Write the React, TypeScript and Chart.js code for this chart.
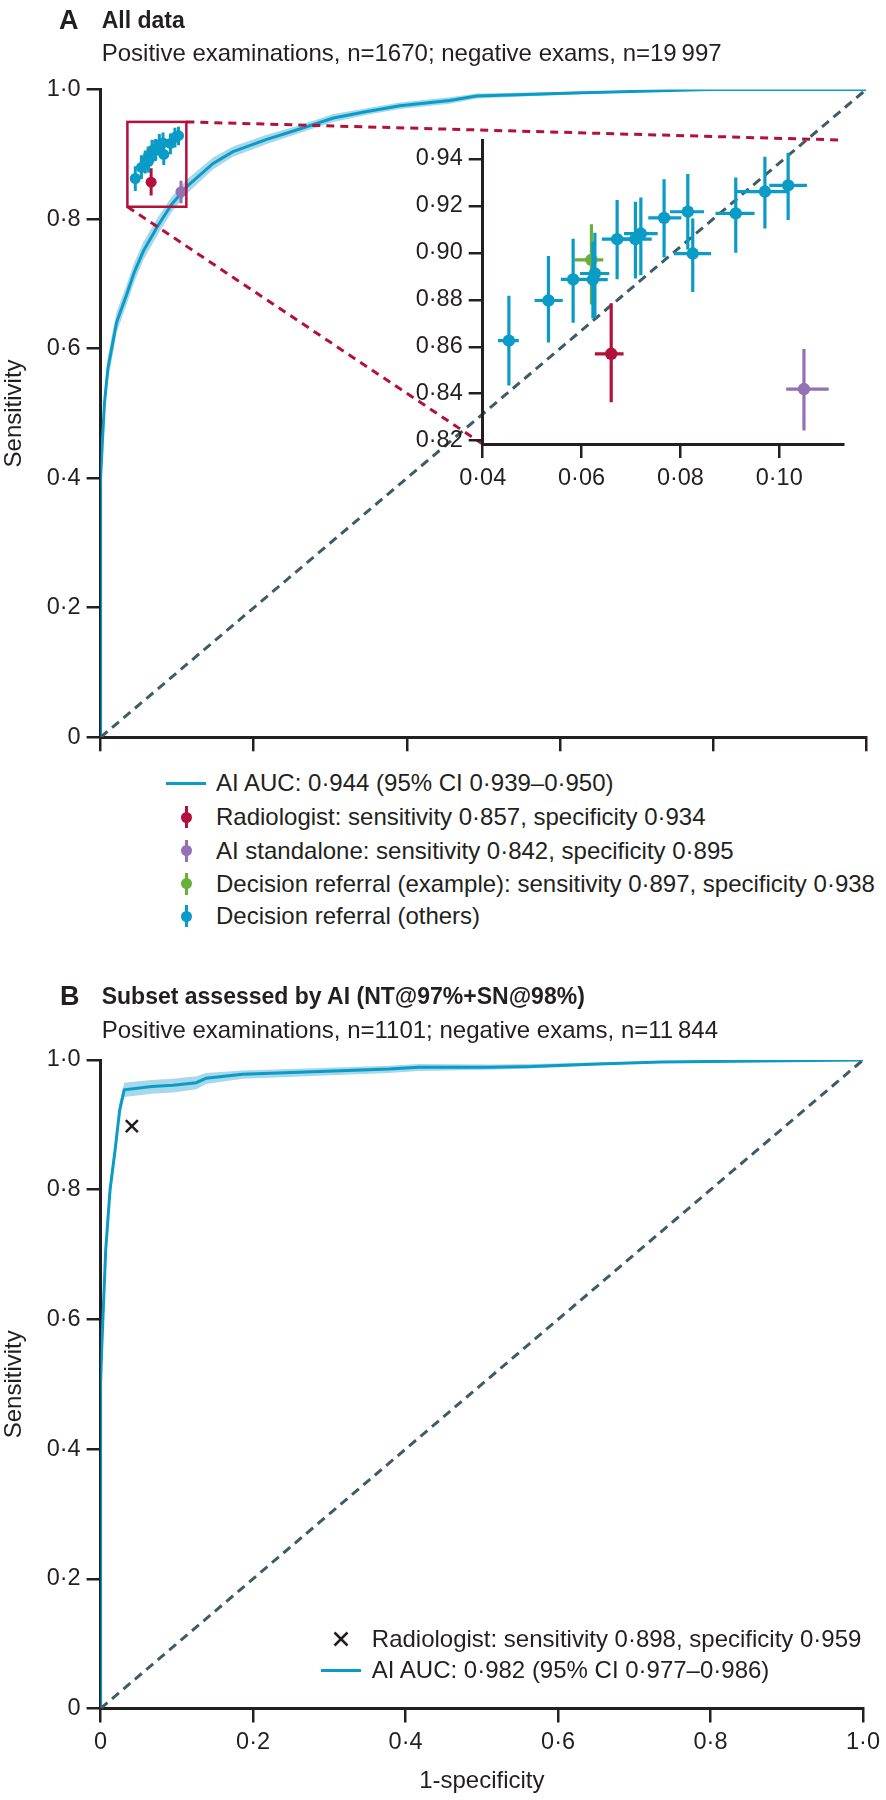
import React, { useEffect, useRef } from 'react';
import { Chart, registerables } from 'chart.js';

Chart.register(...registerables);

const FONT = "'Liberation Sans', Arial, Helvetica, sans-serif";
const INK = '#231f20';
const BLUE = '#0a9bc6';
const BAND = '#a6d7ea';
const DIAG = '#3d5c68';
const RED = '#b3103c';
const PURPLE = '#9470b5';
const GREEN = '#6aaf3a';

// ---------- tick values / labels ----------
const MAIN_TICKS = [0, 0.2, 0.4, 0.6, 0.8, 1];
const MAIN_TICK_LABELS = ['0', '0·2', '0·4', '0·6', '0·8', '1·0'];
const INSET_X_TICKS = [0.04, 0.06, 0.08, 0.1];
const INSET_X_LABELS = ['0·04', '0·06', '0·08', '0·10'];
const INSET_Y_TICKS = [0.82, 0.84, 0.86, 0.88, 0.9, 0.92, 0.94];
const INSET_Y_LABELS = ['0·82', '0·84', '0·86', '0·88', '0·90', '0·92', '0·94'];

// ---------- Panel A: AI ROC curve with 95% CI band ----------
const A_FPR = [0, 0, 0, 0.0025, 0.005, 0.0095, 0.0165, 0.021, 0.033, 0.044, 0.056, 0.075, 0.093, 0.1075, 0.1125, 0.147, 0.173, 0.217, 0.26, 0.304, 0.348, 0.391, 0.456, 0.491, 0.63, 0.796, 1];
const A_TPR = [0, 0.27, 0.4, 0.46, 0.515, 0.569, 0.613, 0.641, 0.68, 0.718, 0.751, 0.79, 0.823, 0.843, 0.85, 0.886, 0.904, 0.923, 0.939, 0.956, 0.966, 0.975, 0.983, 0.99, 0.995, 1, 1];
const A_TPR_LO = [0, 0.25, 0.38, 0.44, 0.495, 0.55, 0.595, 0.625, 0.665, 0.703, 0.737, 0.777, 0.811, 0.832, 0.839, 0.877, 0.896, 0.916, 0.933, 0.95, 0.961, 0.97, 0.978, 0.986, 0.993, 1, 1];
const A_TPR_HI = [0, 0.29, 0.42, 0.48, 0.535, 0.588, 0.631, 0.657, 0.695, 0.733, 0.765, 0.803, 0.835, 0.854, 0.861, 0.895, 0.912, 0.93, 0.945, 0.962, 0.971, 0.98, 0.988, 0.994, 0.997, 1, 1];

// ---------- Panel B: AI ROC curve with 95% CI band ----------
const B_FPR = [0, 0, 0.0014, 0.0067, 0.0124, 0.019, 0.025, 0.031, 0.067, 0.095, 0.1255, 0.1386, 0.186, 0.269, 0.378, 0.417, 0.51, 0.565, 0.652, 0.735, 1];
const B_TPR = [0, 0.5, 0.553, 0.707, 0.8, 0.861, 0.923, 0.954, 0.959, 0.961, 0.965, 0.972, 0.978, 0.9815, 0.986, 0.989, 0.989, 0.99, 0.994, 0.997, 1];
const B_TPR_LO = [0, 0.48, 0.53, 0.69, 0.785, 0.848, 0.91, 0.943, 0.948, 0.95, 0.955, 0.963, 0.971, 0.975, 0.98, 0.983, 0.985, 0.987, 0.992, 0.996, 1];
const B_TPR_HI = [0, 0.52, 0.575, 0.725, 0.815, 0.874, 0.935, 0.965, 0.969, 0.971, 0.975, 0.98, 0.984, 0.987, 0.991, 0.994, 0.993, 0.994, 0.996, 0.998, 1];

// ---------- Decision referral (others) operating points ----------
const REF_FPR = [0.0453, 0.0533, 0.0583, 0.0627, 0.0623, 0.0672, 0.0709, 0.072, 0.0767, 0.0815, 0.0825, 0.0912, 0.0971, 0.1018];
const REF_TPR = [0.8626, 0.8797, 0.8887, 0.8912, 0.8886, 0.9058, 0.9058, 0.9082, 0.9149, 0.9175, 0.8997, 0.9168, 0.9261, 0.9287];
const REF_FPR_LO = [0.0431, 0.0505, 0.0558, 0.0597, 0.0609, 0.0641, 0.0679, 0.0686, 0.0735, 0.0779, 0.0787, 0.0871, 0.091, 0.098];
const REF_FPR_HI = [0.0473, 0.0562, 0.0614, 0.0656, 0.0653, 0.0705, 0.0742, 0.0754, 0.0802, 0.0848, 0.0862, 0.095, 0.1016, 0.1056];
const REF_TPR_LO = [0.8435, 0.8618, 0.8702, 0.8723, 0.872, 0.8888, 0.8891, 0.8905, 0.898, 0.9014, 0.8833, 0.9, 0.9104, 0.914];
const REF_TPR_HI = [0.8817, 0.8986, 0.906, 0.9085, 0.9047, 0.9225, 0.9217, 0.9236, 0.9313, 0.9336, 0.9146, 0.9321, 0.9409, 0.9426];

// ---------- single operating points: [fpr, tpr], CI ranges ----------
const RAD_A = [0.066, 0.857];
const RAD_A_FPR_CI = [0.0627, 0.0685];
const RAD_A_TPR_CI = [0.8364, 0.8785];
const AI_STANDALONE = [0.105, 0.842];
const AI_STANDALONE_FPR_CI = [0.1014, 0.11];
const AI_STANDALONE_TPR_CI = [0.8243, 0.8591];
const REF_EXAMPLE = [0.062, 0.897];
const REF_EXAMPLE_FPR_CI = [0.0586, 0.0644];
const REF_EXAMPLE_TPR_CI = [0.878, 0.9122];
const RAD_B = [0.041, 0.898];

// zoom window shown in inset
const ZOOM_FPR = [0.035, 0.112];
const ZOOM_TPR = [0.819, 0.95];
const INSET_FPR_RANGE = [0.04, 0.1129];
const INSET_TPR_RANGE = [0.8186, 0.948];

const DIAGONAL = [0, 1];

// ---------- helpers ----------
const pts = (xs: number[], ys: number[]) => xs.map((x, i) => ({ x, y: ys[i] }));

function errPoint(p: number[], fx: number[], fy: number[]) {
  return { x: p[0], y: p[1], xMin: fx[0], xMax: fx[1], yMin: fy[0], yMax: fy[1] };
}
const refOthers = () =>
  REF_FPR.map((x, i) => ({
    x,
    y: REF_TPR[i],
    xMin: REF_FPR_LO[i],
    xMax: REF_FPR_HI[i],
    yMin: REF_TPR_LO[i],
    yMax: REF_TPR_HI[i],
  }));

const errorBarPlugin = {
  id: 'errorBars',
  beforeDatasetDraw(chart: any, args: any) {
    const ds: any = chart.data.datasets[args.index];
    if (!ds.errorBars) return;
    const xs = chart.scales.x;
    const ys = chart.scales.y;
    const ctx = chart.ctx;
    ctx.save();
    ctx.strokeStyle = ds.backgroundColor;
    ctx.lineWidth = ds.errorBarWidth || 2.5;
    ctx.lineCap = 'butt';
    ds.data.forEach((p: any) => {
      const px = xs.getPixelForValue(p.x);
      const py = ys.getPixelForValue(p.y);
      ctx.beginPath();
      ctx.moveTo(xs.getPixelForValue(p.xMin), py);
      ctx.lineTo(xs.getPixelForValue(p.xMax), py);
      ctx.moveTo(px, ys.getPixelForValue(p.yMin));
      ctx.lineTo(px, ys.getPixelForValue(p.yMax));
      ctx.stroke();
    });
    ctx.restore();
  },
};

function axis(o: {
  min: number;
  max: number;
  ticks: number[];
  labels: string[];
  showLabels: boolean;
  horizontal: boolean;
  size: number;
  title?: string;
  titlePad?: any;
}) {
  return {
    type: 'linear',
    min: o.min,
    max: o.max,
    afterBuildTicks: (s: any) => {
      s.ticks = o.ticks.map((v) => ({ value: v }));
    },
    afterFit: (s: any) => {
      if (o.horizontal) s.height = o.size;
      else s.width = o.size;
    },
    ticks: {
      display: o.showLabels,
      callback: (_v: any, i: number) => o.labels[i],
      color: INK,
      font: { family: FONT, size: 23.5 },
      padding: 6,
      autoSkip: false,
      maxRotation: 0,
      minRotation: 0,
    },
    grid: { drawOnChartArea: false, drawTicks: true, tickLength: 14, color: INK, lineWidth: 2.5 },
    border: { display: true, color: INK, width: 3 },
    title: {
      display: !!o.title,
      text: o.title || '',
      color: INK,
      font: { family: FONT, size: 24 },
      padding: o.titlePad || 0,
    },
  };
}

function rocDatasets(fpr: number[], tpr: number[], lo: number[], hi: number[]) {
  return [
    {
      type: 'line',
      data: pts(fpr, lo),
      borderColor: 'transparent',
      borderWidth: 1,
      pointRadius: 0,
      fill: false,
      order: 20,
    },
    {
      type: 'line',
      data: pts(fpr, hi),
      borderColor: 'transparent',
      borderWidth: 1,
      pointRadius: 0,
      fill: '-1',
      backgroundColor: BAND,
      order: 19,
    },
    {
      type: 'line',
      data: pts(fpr, tpr),
      borderColor: BLUE,
      borderWidth: 3,
      pointRadius: 0,
      fill: false,
      order: 10,
    },
    {
      type: 'line',
      data: pts(DIAGONAL, DIAGONAL),
      borderColor: DIAG,
      borderWidth: 3,
      borderDash: [9, 6],
      pointRadius: 0,
      fill: false,
      order: 9,
    },
  ];
}

function pointDatasets(r: number, bw: number) {
  const mk = (data: any[], color: string, order: number) => ({
    type: 'scatter',
    data,
    backgroundColor: color,
    pointBackgroundColor: color,
    pointBorderWidth: 0,
    borderWidth: 0,
    pointRadius: r,
    pointHoverRadius: r,
    errorBars: true,
    errorBarWidth: bw,
    order,
  });
  return [
    mk([errPoint(REF_EXAMPLE, REF_EXAMPLE_FPR_CI, REF_EXAMPLE_TPR_CI)], GREEN, 4),
    mk([errPoint(RAD_A, RAD_A_FPR_CI, RAD_A_TPR_CI)], RED, 3),
    mk([errPoint(AI_STANDALONE, AI_STANDALONE_FPR_CI, AI_STANDALONE_TPR_CI)], PURPLE, 2),
    mk(refOthers(), BLUE, 1),
  ];
}

const baseOptions = {
  responsive: false,
  animation: false,
  devicePixelRatio: 1,
  events: [],
  plugins: { legend: { display: false }, tooltip: { enabled: false } },
};

// ---------- layout (page pixels) ----------
const A_CANVAS = { left: 0, top: 0, width: 886, height: 760 };
const INSET_CANVAS = { left: 380, top: 120, width: 506, height: 380 };
const B_CANVAS = { left: 0, top: 960, width: 886, height: 840 };

const LEGEND_A = [
  { kind: 'line', color: BLUE, text: 'AI AUC: 0·944 (95% CI 0·939–0·950)', y: 783 },
  { kind: 'err', color: RED, text: 'Radiologist: sensitivity 0·857, specificity 0·934', y: 817 },
  { kind: 'err', color: PURPLE, text: 'AI standalone: sensitivity 0·842, specificity 0·895', y: 850.5 },
  { kind: 'err', color: GREEN, text: 'Decision referral (example): sensitivity 0·897, specificity 0·938', y: 883.5 },
  { kind: 'err', color: BLUE, text: 'Decision referral (others)', y: 916 },
];

const TXT: React.CSSProperties = {
  position: 'absolute',
  fontFamily: FONT,
  color: INK,
  whiteSpace: 'nowrap',
  lineHeight: 1,
  transform: 'translateY(-50%)',
};

export default function App() {
  const aRef = useRef<HTMLCanvasElement>(null);
  const insetRef = useRef<HTMLCanvasElement>(null);
  const bRef = useRef<HTMLCanvasElement>(null);

  useEffect(() => {
    // inset (zoom of panel A)
    const inset = new Chart(insetRef.current as HTMLCanvasElement, {
      type: 'line',
      data: { datasets: pointDatasets(6.2, 3.2) as any },
      options: {
        ...baseOptions,
        layout: { padding: { left: 0, top: 20, right: 43, bottom: 0 } },
        scales: {
          x: axis({
            min: INSET_FPR_RANGE[0],
            max: INSET_FPR_RANGE[1],
            ticks: INSET_X_TICKS,
            labels: INSET_X_LABELS,
            showLabels: true,
            horizontal: true,
            size: 56,
          }),
          y: axis({
            min: INSET_TPR_RANGE[0],
            max: INSET_TPR_RANGE[1],
            ticks: INSET_Y_TICKS,
            labels: INSET_Y_LABELS,
            showLabels: true,
            horizontal: false,
            size: 102.7,
          }),
        },
      } as any,
      plugins: [errorBarPlugin],
    });

    const zoomPlugin = {
      id: 'zoomBox',
      afterDatasetsDraw(chart: any) {
        const ctx = chart.ctx;
        const xs = chart.scales.x;
        const ys = chart.scales.y;
        const x1 = xs.getPixelForValue(ZOOM_FPR[0]);
        const x2 = xs.getPixelForValue(ZOOM_FPR[1]);
        const yT = ys.getPixelForValue(ZOOM_TPR[1]);
        const yB = ys.getPixelForValue(ZOOM_TPR[0]);
        ctx.save();
        ctx.strokeStyle = RED;
        ctx.lineWidth = 2.5;
        ctx.strokeRect(x1, yT, x2 - x1, yB - yT);
        const mr = chart.canvas.getBoundingClientRect();
        const ir = inset.canvas.getBoundingClientRect();
        const dx = ir.left - mr.left;
        const dy = ir.top - mr.top;
        const ia = inset.chartArea;
        ctx.setLineDash([8, 6]);
        ctx.lineWidth = 3;
        ctx.beginPath();
        ctx.moveTo(x2, yT);
        ctx.lineTo(dx + ia.right, dy + ia.top);
        ctx.moveTo(x1, yB);
        ctx.lineTo(dx + ia.left, dy + ia.bottom);
        ctx.stroke();
        ctx.restore();
      },
    };

    const a = new Chart(aRef.current as HTMLCanvasElement, {
      type: 'line',
      data: {
        datasets: [...rocDatasets(A_FPR, A_TPR, A_TPR_LO, A_TPR_HI), ...pointDatasets(5.5, 3)] as any,
      },
      options: {
        ...baseOptions,
        layout: { padding: { left: 0, top: 89.5, right: 19.8, bottom: 0 } },
        scales: {
          x: axis({
            min: 0,
            max: 1,
            ticks: MAIN_TICKS,
            labels: MAIN_TICK_LABELS,
            showLabels: false,
            horizontal: true,
            size: 22.7,
          }),
          y: axis({
            min: 0,
            max: 1,
            ticks: MAIN_TICKS,
            labels: MAIN_TICK_LABELS,
            showLabels: true,
            horizontal: false,
            size: 100.6,
            title: 'Sensitivity',
            titlePad: 0,
          }),
        },
      } as any,
      plugins: [errorBarPlugin, zoomPlugin],
    });

    const b = new Chart(bRef.current as HTMLCanvasElement, {
      type: 'line',
      data: {
        datasets: [
          ...rocDatasets(B_FPR, B_TPR, B_TPR_LO, B_TPR_HI),
          {
            type: 'scatter',
            data: [{ x: RAD_B[0], y: RAD_B[1] }],
            pointStyle: 'crossRot',
            pointRadius: 8.5,
            pointHoverRadius: 8.5,
            borderColor: INK,
            pointBorderColor: INK,
            pointBorderWidth: 2.5,
            borderWidth: 2.5,
            order: 1,
          },
        ] as any,
      },
      options: {
        ...baseOptions,
        layout: { padding: { left: 0, top: 100, right: 19.8, bottom: 0 } },
        scales: {
          x: axis({
            min: 0,
            max: 1,
            ticks: MAIN_TICKS,
            labels: MAIN_TICK_LABELS,
            showLabels: true,
            horizontal: true,
            size: 91.5,
            title: '1-specificity',
            titlePad: { top: 0, bottom: 4 },
          }),
          y: axis({
            min: 0,
            max: 1,
            ticks: MAIN_TICKS,
            labels: MAIN_TICK_LABELS,
            showLabels: true,
            horizontal: false,
            size: 100.6,
            title: 'Sensitivity',
            titlePad: 0,
          }),
        },
      } as any,
    });

    return () => {
      a.destroy();
      inset.destroy();
      b.destroy();
    };
  }, []);

  const cv = (c: { left: number; top: number; width: number; height: number }): React.CSSProperties => ({
    position: 'absolute',
    left: c.left,
    top: c.top,
    width: c.width,
    height: c.height,
  });

  return (
    <div style={{ position: 'absolute', left: 0, top: 0, width: 886, height: 1800, background: '#fff', overflow: 'hidden' }}>
      <canvas ref={aRef} width={A_CANVAS.width} height={A_CANVAS.height} style={cv(A_CANVAS)} />
      <canvas ref={insetRef} width={INSET_CANVAS.width} height={INSET_CANVAS.height} style={cv(INSET_CANVAS)} />
      <canvas ref={bRef} width={B_CANVAS.width} height={B_CANVAS.height} style={cv(B_CANVAS)} />

      {/* Panel A titles */}
      <div style={{ ...TXT, left: 59, top: 20, fontSize: 27, fontWeight: 700 }}>A</div>
      <div style={{ ...TXT, left: 101.7, top: 20, fontSize: 23, fontWeight: 700 }}>All data</div>
      <div style={{ ...TXT, left: 101.7, top: 53, fontSize: 24 }}>
        Positive examinations, n=1670; negative exams, n=19{'\u2009'}997
      </div>

      {/* Panel A legend */}
      {LEGEND_A.map((it, i) => (
        <React.Fragment key={i}>
          {it.kind === 'line' ? (
            <div style={{ position: 'absolute', left: 165.5, top: it.y - 1.5, width: 40.5, height: 3, background: it.color }} />
          ) : (
            <>
              <div style={{ position: 'absolute', left: 186 - 1.5, top: it.y - 11, width: 3, height: 22, background: it.color }} />
              <div
                style={{
                  position: 'absolute',
                  left: 186 - 5.5,
                  top: it.y - 5.5,
                  width: 11,
                  height: 11,
                  borderRadius: '50%',
                  background: it.color,
                }}
              />
            </>
          )}
          <div style={{ ...TXT, left: 216, top: it.y, fontSize: 24 }}>{it.text}</div>
        </React.Fragment>
      ))}

      {/* Panel B titles */}
      <div style={{ ...TXT, left: 60, top: 996, fontSize: 27, fontWeight: 700 }}>B</div>
      <div style={{ ...TXT, left: 101.7, top: 996, fontSize: 23, fontWeight: 700 }}>Subset assessed by AI (NT@97%+SN@98%)</div>
      <div style={{ ...TXT, left: 101.7, top: 1030, fontSize: 24 }}>
        Positive examinations, n=1101; negative exams, n=11{'\u2009'}844
      </div>

      {/* Panel B legend */}
      <svg style={{ position: 'absolute', left: 340.7 - 8, top: 1639 - 8 }} width={16} height={16}>
        <line x1={1.5} y1={1.5} x2={14.5} y2={14.5} stroke={INK} strokeWidth={2.5} />
        <line x1={14.5} y1={1.5} x2={1.5} y2={14.5} stroke={INK} strokeWidth={2.5} />
      </svg>
      <div style={{ ...TXT, left: 371.8, top: 1639, fontSize: 24 }}>Radiologist: sensitivity 0·898, specificity 0·959</div>
      <div style={{ position: 'absolute', left: 321, top: 1670 - 1.5, width: 39.5, height: 3, background: BLUE }} />
      <div style={{ ...TXT, left: 371.8, top: 1670, fontSize: 24 }}>AI AUC: 0·982 (95% CI 0·977–0·986)</div>
    </div>
  );
}
